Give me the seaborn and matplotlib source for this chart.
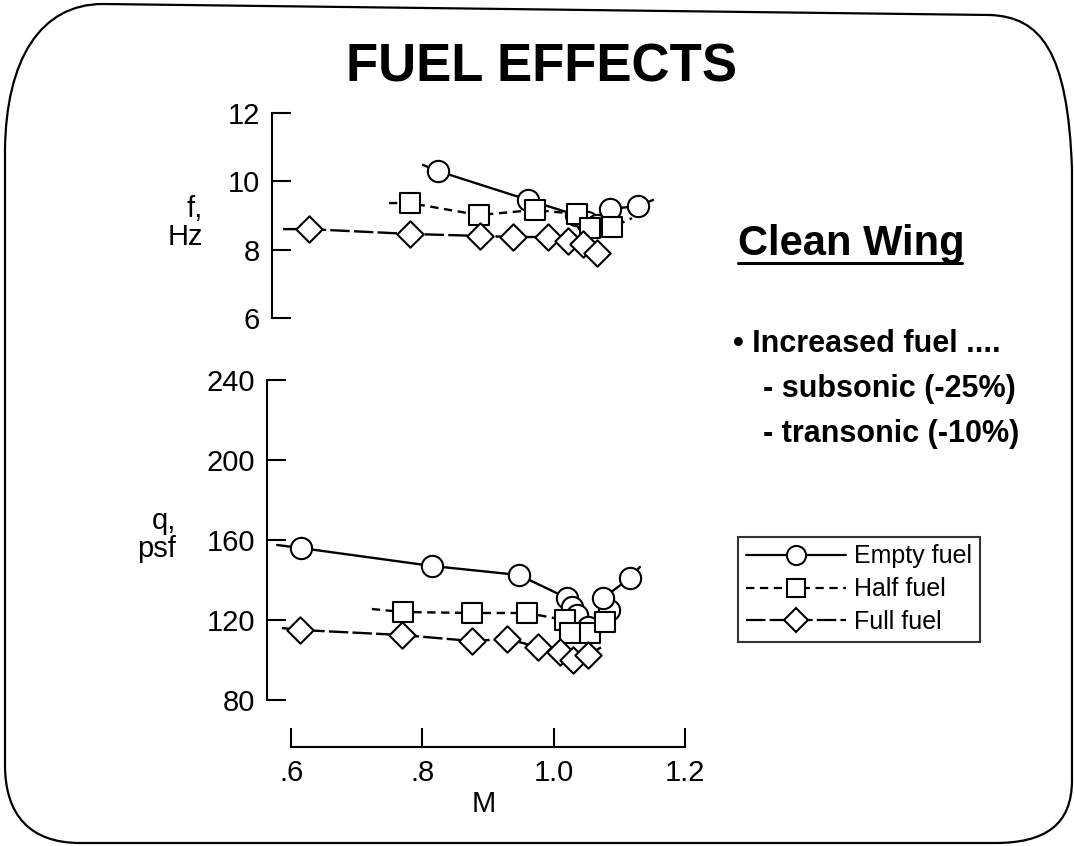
import matplotlib
matplotlib.use("Agg")
import matplotlib.pyplot as plt
import seaborn as sns
from matplotlib.lines import Line2D
from matplotlib.path import Path
from matplotlib.patches import PathPatch

# ---------------- data ----------------
# Frequency panel: Mach number and flutter frequency f (Hz)
f_empty_M = [0.824, 0.961, 1.034, 1.051, 1.066, 1.086, 1.128]
f_empty = [10.29, 9.45, 9.01, 8.81, 8.72, 9.19, 9.27]
f_half_M = [0.781, 0.886, 0.971, 1.035, 1.055, 1.089]
f_half = [9.36, 9.01, 9.16, 9.04, 8.63, 8.66]
f_full_M = [0.627, 0.781, 0.888, 0.938, 0.991, 1.022, 1.044, 1.066]
f_full = [8.60, 8.46, 8.40, 8.37, 8.37, 8.25, 8.17, 7.90]
# faired-curve end stubs (start, end)
f_empty_ends_M = [0.801, 1.151]
f_empty_ends = [10.47, 9.45]
f_half_ends_M = [0.749, 1.119]
f_half_ends = [9.36, 8.92]
f_full_ends_M = [0.588, 1.083]
f_full_ends = [8.60, 7.79]

# Dynamic pressure panel: Mach number and flutter q (psf)
q_empty_M = [0.615, 0.815, 0.947, 1.020, 1.028, 1.035, 1.052, 1.084, 1.075, 1.116]
q_empty = [156, 147, 142.5, 131, 126.5, 122.5, 116.5, 125, 131, 141]
q_half_M = [0.770, 0.876, 0.959, 1.017, 1.025, 1.055, 1.078]
q_half = [124, 123.5, 123.5, 120, 113.5, 113.5, 119]
q_full_M = [0.614, 0.769, 0.875, 0.929, 0.976, 1.009, 1.029, 1.052]
q_full = [115, 112.5, 109.5, 110.5, 106.5, 104, 100, 102.5]
q_empty_ends_M = [0.579, 1.131]
q_empty_ends = [157.5, 146.5]
q_half_ends_M = [0.723, 1.090]
q_half_ends = [125.5, 121]
q_full_ends_M = [0.586, 1.073]
q_full_ends = [116, 106.5]

series_labels = ["Empty fuel", "Half fuel", "Full fuel"]
f_ticks = [6, 8, 10, 12]
q_ticks = [80, 120, 160, 200, 240]
m_ticks = [0.6, 0.8, 1.0, 1.2]
m_tick_labels = [".6", ".8", "1.0", "1.2"]

# ---------------- styling ----------------
sns.set_theme(style="ticks")
plt.rcParams["font.family"] = ["Liberation Sans", "DejaVu Sans"]
plt.rcParams["lines.scale_dashes"] = False
for key in ("text.color", "axes.labelcolor", "xtick.color", "ytick.color",
            "axes.edgecolor"):
    plt.rcParams[key] = "black"

W, H = 1074, 846
fig = plt.figure(figsize=(W / 100, H / 100), dpi=100)
fig.patch.set_facecolor("white")

def fx(px):
    return px / W

def fy(py):
    return 1 - py / H

styles = [
    dict(ls="-", marker="o", s=235, ms=15.3),
    dict(ls=(0, (6, 4)), marker="s", s=205, ms=14.3),
    dict(ls=(0, (14, 3)), marker="D", s=180, ms=13.4),
]

# axes placed by pixel geometry of the reference
ax_f = fig.add_axes([fx(272), fy(318.3), (700 - 272) / W, 205.8 / H])
ax_q = fig.add_axes([fx(267), fy(700), (700 - 267) / W, 320 / H])
ax_f.set_xlim(0.6 + (272 - 291) / 657, 0.6 + (700 - 291) / 657)
ax_q.set_xlim(0.6 + (267 - 291) / 657, 0.6 + (700 - 291) / 657)
ax_f.set_ylim(6, 12)
ax_q.set_ylim(80, 240)

panels = [
    (ax_f, [(f_empty_M, f_empty, f_empty_ends_M, f_empty_ends),
            (f_half_M, f_half, f_half_ends_M, f_half_ends),
            (f_full_M, f_full, f_full_ends_M, f_full_ends)]),
    (ax_q, [(q_empty_M, q_empty, q_empty_ends_M, q_empty_ends),
            (q_half_M, q_half, q_half_ends_M, q_half_ends),
            (q_full_M, q_full, q_full_ends_M, q_full_ends)]),
]

for ax, sers in panels:
    for (Ms, vals, eM, ev), st in zip(sers, styles):
        lm = [eM[0]] + list(Ms) + [eM[1]]
        lv = [ev[0]] + list(vals) + [ev[1]]
        sns.lineplot(x=lm, y=lv, ax=ax, sort=False, estimator=None,
                     color="black", linewidth=1.7, linestyle=st["ls"], zorder=2)
        sns.scatterplot(x=Ms, y=vals, ax=ax, marker=st["marker"], s=st["s"],
                        color="white", edgecolor="black", linewidth=1.5, zorder=3)

for ax in (ax_f, ax_q):
    ax.set_facecolor("none")
    for side in ("top", "right"):
        ax.spines[side].set_visible(False)
    ax.spines["left"].set_linewidth(1.5)
    ax.spines["left"].set_color("black")
    ax.tick_params(axis="y", direction="in", length=14, width=1.5, pad=8.5,
                   labelsize=21, colors="black")
    ax.grid(False)

ax_f.spines["bottom"].set_visible(False)
ax_f.set_xticks([])
ax_f.set_yticks(f_ticks)
ax_f.set_yticklabels([str(t) for t in f_ticks])

ax_q.set_yticks(q_ticks)
ax_q.set_yticklabels([str(t) for t in q_ticks])
ax_q.spines["bottom"].set_position(("outward", 33.8))
ax_q.spines["bottom"].set_bounds(0.6, 1.2)
ax_q.spines["bottom"].set_linewidth(1.5)
ax_q.spines["bottom"].set_color("black")
ax_q.set_xticks(m_ticks)
ax_q.set_xticklabels(m_tick_labels)
ax_q.tick_params(axis="x", direction="in", length=14, width=1.5, pad=9,
                 labelsize=21, colors="black")
ax_q.set_xlabel("M", fontsize=21, labelpad=2, color="black")
ax_f.set_ylabel("")
ax_q.set_ylabel("")

fig.text(fx(203), fy(223), "f,\nHz", ha="right", va="center", fontsize=21,
         multialignment="right", linespacing=1.0)
fig.text(fx(176), fy(535), "q,\npsf", ha="right", va="center", fontsize=21,
         multialignment="right", linespacing=1.0)

# title and notes
fig.text(fx(541), fy(81), "FUEL EFFECTS", ha="center", va="baseline",
         fontsize=38, fontweight="bold")
fig.text(fx(738), fy(255), "Clean Wing", ha="left", va="baseline",
         fontsize=30, fontweight="bold")
fig.add_artist(Line2D([fx(738), fx(962)], [fy(263), fy(263)], color="black",
                      lw=2.2, transform=fig.transFigure))
fig.text(fx(733), fy(352), "\u2022 Increased fuel ....", ha="left", va="baseline",
         fontsize=22, fontweight="bold")
fig.text(fx(763), fy(397), "- subsonic (-25%)", ha="left", va="baseline",
         fontsize=22, fontweight="bold")
fig.text(fx(763), fy(442), "- transonic (-10%)", ha="left", va="baseline",
         fontsize=22, fontweight="bold")

# legend
handles = [Line2D([], [], color="black", lw=1.6, ls=st["ls"], marker=st["marker"],
                  ms=st["ms"] * 0.9, mfc="white", mec="black", mew=1.5)
           for st in styles]
leg = fig.legend(handles, series_labels, loc="upper left",
                 bbox_to_anchor=(fx(738), fy(537)), frameon=True, fancybox=False,
                 edgecolor="black", fontsize=18, handlelength=4.0,
                 handletextpad=0.35, labelspacing=0.35, borderpad=0.3,
                 borderaxespad=0)
leg.get_frame().set_linewidth(1.5)
leg.get_frame().set_facecolor("white")

# slide border
def P(x, y):
    return (fx(x), fy(y))

verts = [P(103, 4), P(990, 15),
         P(1040, 17), P(1068, 50), P(1072, 170),
         P(1072, 780),
         P(1072, 825), P(1045, 843), P(995, 843),
         P(80, 843),
         P(30, 843), P(5, 815), P(5, 765),
         P(5, 150),
         P(6, 60), P(40, 4), P(103, 4)]
codes = [Path.MOVETO, Path.LINETO,
         Path.CURVE4, Path.CURVE4, Path.CURVE4,
         Path.LINETO,
         Path.CURVE4, Path.CURVE4, Path.CURVE4,
         Path.LINETO,
         Path.CURVE4, Path.CURVE4, Path.CURVE4,
         Path.LINETO,
         Path.CURVE4, Path.CURVE4, Path.CURVE4]
fig.add_artist(PathPatch(Path(verts, codes), facecolor="none", edgecolor="black",
                         lw=1.6, transform=fig.transFigure))

fig.savefig("out.png", dpi=100, facecolor="white")
